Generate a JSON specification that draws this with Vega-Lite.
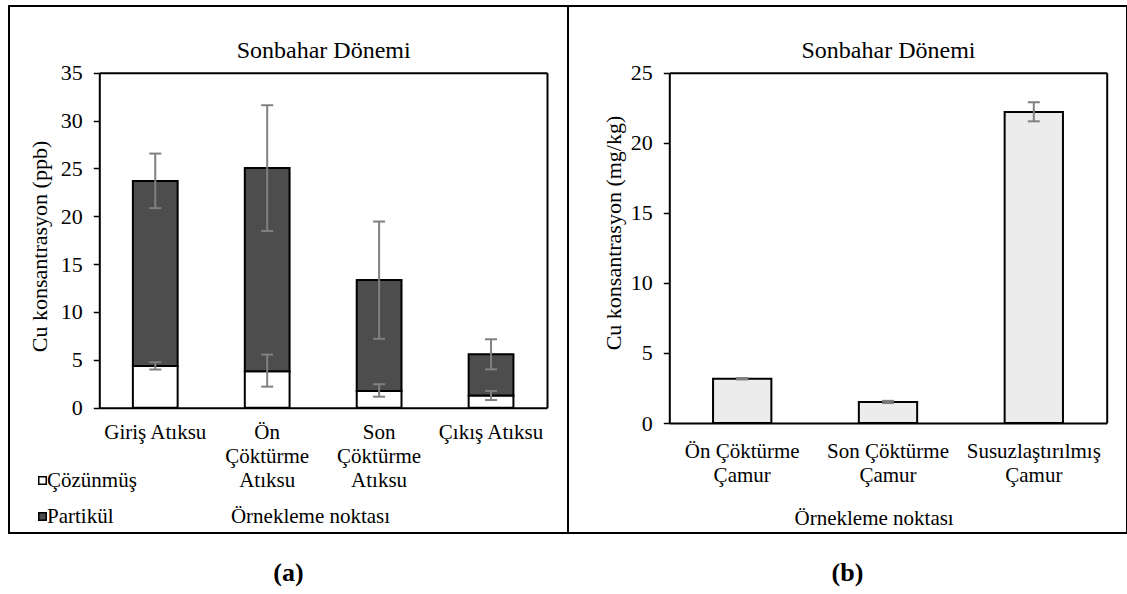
{
  "$schema": "https://vega.github.io/schema/vega-lite/v6.json",
  "background": "white",
  "padding": {"left": 8, "top": 5, "right": 0, "bottom": 0},
  "datasets": {
    "sol": [
      {"nokta": "Giriş Atıksu", "tur": "Çözünmüş", "katman": 1, "deger": 4.36, "alt": 3.99, "ust": 4.75},
      {"nokta": "Giriş Atıksu", "tur": "Partikül", "katman": 2, "deger": 19.33, "alt": 20.85, "ust": 26.55},
      {"nokta": "Ön Çöktürme Atıksu", "tur": "Çözünmüş", "katman": 1, "deger": 3.8, "alt": 2.2, "ust": 5.55},
      {"nokta": "Ön Çöktürme Atıksu", "tur": "Partikül", "katman": 2, "deger": 21.24, "alt": 18.46, "ust": 31.6},
      {"nokta": "Son Çöktürme Atıksu", "tur": "Çözünmüş", "katman": 1, "deger": 1.74, "alt": 1.15, "ust": 2.45},
      {"nokta": "Son Çöktürme Atıksu", "tur": "Partikül", "katman": 2, "deger": 11.6, "alt": 7.2, "ust": 19.45},
      {"nokta": "Çıkış Atıksu", "tur": "Çözünmüş", "katman": 1, "deger": 1.28, "alt": 0.8, "ust": 1.75},
      {"nokta": "Çıkış Atıksu", "tur": "Partikül", "katman": 2, "deger": 4.3, "alt": 4.0, "ust": 7.15}
    ],
    "sag": [
      {"nokta": "Ön Çöktürme Çamur", "deger": 3.16, "alt": 3.11, "ust": 3.21},
      {"nokta": "Son Çöktürme Çamur", "deger": 1.5, "alt": 1.42, "ust": 1.58},
      {"nokta": "Susuzlaştırılmış Çamur", "deger": 22.2, "alt": 21.53, "ust": 22.89}
    ]
  },
  "spacing": 0,
  "bounds": "flush",
  "hconcat": [
    {
      "width": 559,
      "height": 527,
      "title": {"text": "(a)", "orient": "bottom", "anchor": "middle", "frame": "group", "offset": 48, "baseline": "alphabetic", "font": "Liberation Serif, Times New Roman, serif", "fontSize": 26, "fontWeight": "bold", "color": "black"},
      "data": {"name": "sol"},
      "resolve": {"axis": {"x": "independent", "y": "independent"}},
      "layer": [
        {
          "mark": {"type": "bar", "stroke": "black", "strokeWidth": 2},
          "encoding": {
            "x": {
              "field": "nokta", "type": "nominal",
              "sort": ["Giriş Atıksu", "Ön Çöktürme Atıksu", "Son Çöktürme Atıksu", "Çıkış Atıksu"],
              "scale": {"range": [90.3, 538], "paddingInner": 0.6, "paddingOuter": 0.3},
              "axis": {
                "orient": "bottom", "offset": -125.3,
                "title": "Örnekleme noktası", "titleX": 301, "titleY": 115, "titleBaseline": "alphabetic", "titleFontSize": 21,
                "labelFont": "Liberation Serif, Times New Roman, serif", "titleFont": "Liberation Serif, Times New Roman, serif",
                "labelFontSize": 21, "labelAngle": 0, "ticks": false, "tickSize": 0, "labelPadding": 14, "labelLineHeight": 24,
                "labelBaseline": "top", "labelOverlap": false, "domainWidth": 2,
                "labelExpr": "datum.value == 'Ön Çöktürme Atıksu' ? ['Ön', 'Çöktürme', 'Atıksu'] : datum.value == 'Son Çöktürme Atıksu' ? ['Son', 'Çöktürme', 'Atıksu'] : datum.label"
              }
            },
            "y": {
              "field": "deger", "type": "quantitative", "stack": "zero",
              "scale": {"domain": [0, 35], "range": [401.7, 66.7], "nice": false},
              "axis": {
                "orient": "left", "offset": -90.3, "values": [0, 5, 10, 15, 20, 25, 30, 35],
                "labelFont": "Liberation Serif, Times New Roman, serif", "titleFont": "Liberation Serif, Times New Roman, serif",
                "title": "Cu konsantrasyon (ppb)", "titleFontSize": 22, "titlePadding": 9, "titleY": 240,
                "labelFontSize": 22, "tickSize": 6, "tickWidth": 1.5, "labelPadding": 11, "domainWidth": 2
              }
            },
            "color": {
              "field": "tur", "type": "nominal",
              "scale": {"domain": ["Çözünmüş", "Partikül"], "range": ["white", "#4d4d4d"]},
              "legend": {
                "orient": "none", "legendX": 23, "legendY": 464, "title": null, "direction": "vertical",
                "symbolType": "square", "symbolSize": 56, "symbolStrokeColor": "black", "symbolStrokeWidth": 1.5, "symbolOpacity": 1,
                "labelFont": "Liberation Serif, Times New Roman, serif", "labelFontSize": 21, "labelColor": "black", "rowPadding": 14, "labelOffset": -6, "padding": 0
              }
            },
            "order": {"field": "katman", "type": "quantitative"}
          }
        },
        {
          "mark": {"type": "rule", "color": "#808080", "strokeWidth": 2},
          "encoding": {
            "x": {
              "field": "nokta", "type": "nominal",
              "sort": ["Giriş Atıksu", "Ön Çöktürme Atıksu", "Son Çöktürme Atıksu", "Çıkış Atıksu"],
              "axis": {"orient": "top", "offset": -66.7, "labels": false, "ticks": false, "domain": true, "domainWidth": 2,
                       "titleFont": "Liberation Serif, Times New Roman, serif",
                       "title": "Sonbahar Dönemi", "titleFontSize": 24, "titleY": -15, "titleBaseline": "alphabetic"}
            },
            "y": {
              "field": "alt", "type": "quantitative",
              "scale": {"domain": [0, 35], "nice": false},
              "axis": {"orient": "right", "offset": -21, "labels": false, "ticks": false, "domainWidth": 2, "title": null}
            },
            "y2": {"field": "ust"}
          }
        },
        {
          "mark": {"type": "tick", "color": "#808080", "size": 12, "thickness": 2, "orient": "horizontal", "opacity": 1},
          "encoding": {
            "x": {"field": "nokta", "type": "nominal", "sort": ["Giriş Atıksu", "Ön Çöktürme Atıksu", "Son Çöktürme Atıksu", "Çıkış Atıksu"], "axis": null},
            "y": {"field": "alt", "type": "quantitative", "scale": {"domain": [0, 35], "nice": false}, "axis": null}
          }
        },
        {
          "mark": {"type": "tick", "color": "#808080", "size": 12, "thickness": 2, "orient": "horizontal", "opacity": 1},
          "encoding": {
            "x": {"field": "nokta", "type": "nominal", "sort": ["Giriş Atıksu", "Ön Çöktürme Atıksu", "Son Çöktürme Atıksu", "Çıkış Atıksu"], "axis": null},
            "y": {"field": "ust", "type": "quantitative", "scale": {"domain": [0, 35], "nice": false}, "axis": null}
          }
        }
      ]
    },
    {
      "width": 559,
      "height": 527,
      "title": {"text": "(b)", "orient": "bottom", "anchor": "middle", "frame": "group", "offset": 48, "baseline": "alphabetic", "font": "Liberation Serif, Times New Roman, serif", "fontSize": 26, "fontWeight": "bold", "color": "black"},
      "data": {"name": "sag"},
      "resolve": {"axis": {"x": "independent", "y": "independent"}},
      "layer": [
        {
          "mark": {"type": "bar", "fill": "#ececec", "stroke": "black", "strokeWidth": 2},
          "encoding": {
            "x": {
              "field": "nokta", "type": "nominal",
              "sort": ["Ön Çöktürme Çamur", "Son Çöktürme Çamur", "Susuzlaştırılmış Çamur"],
              "scale": {"range": [101.3, 538.7], "paddingInner": 0.6, "paddingOuter": 0.3},
              "axis": {
                "orient": "bottom", "offset": -110,
                "labelFont": "Liberation Serif, Times New Roman, serif", "titleFont": "Liberation Serif, Times New Roman, serif",
                "title": "Örnekleme noktası", "titleX": 305.6, "titleY": 101.3, "titleBaseline": "alphabetic", "titleFontSize": 21,
                "labelFontSize": 21, "labelAngle": 0, "ticks": false, "tickSize": 0, "labelPadding": 17, "labelLineHeight": 24,
                "labelBaseline": "top", "labelOverlap": false, "domainWidth": 2,
                "labelExpr": "[replace(datum.value, ' Çamur', ''), 'Çamur']"
              }
            },
            "y": {
              "field": "deger", "type": "quantitative",
              "scale": {"domain": [0, 25], "range": [417, 66.7], "nice": false},
              "axis": {
                "orient": "left", "offset": -101.3, "values": [0, 5, 10, 15, 20, 25],
                "labelFont": "Liberation Serif, Times New Roman, serif", "titleFont": "Liberation Serif, Times New Roman, serif",
                "title": "Cu konsantrasyon (mg/kg)", "titleFontSize": 22, "titlePadding": 5, "titleY": 226.5,
                "labelFontSize": 22, "tickSize": 6, "tickWidth": 1.5, "labelPadding": 11, "domainWidth": 2
              }
            }
          }
        },
        {
          "mark": {"type": "rule", "color": "#808080", "strokeWidth": 2},
          "encoding": {
            "x": {
              "field": "nokta", "type": "nominal",
              "sort": ["Ön Çöktürme Çamur", "Son Çöktürme Çamur", "Susuzlaştırılmış Çamur"],
              "axis": {"orient": "top", "offset": -66.7, "labels": false, "ticks": false, "domain": true, "domainWidth": 2,
                       "titleFont": "Liberation Serif, Times New Roman, serif",
                       "title": "Sonbahar Dönemi", "titleFontSize": 24, "titleY": -15, "titleBaseline": "alphabetic"}
            },
            "y": {
              "field": "alt", "type": "quantitative",
              "scale": {"domain": [0, 25], "nice": false},
              "axis": {"orient": "right", "offset": -20.3, "labels": false, "ticks": false, "domainWidth": 2, "title": null}
            },
            "y2": {"field": "ust"}
          }
        },
        {
          "mark": {"type": "tick", "color": "#808080", "size": 12, "thickness": 2, "orient": "horizontal", "opacity": 1},
          "encoding": {
            "x": {"field": "nokta", "type": "nominal", "sort": ["Ön Çöktürme Çamur", "Son Çöktürme Çamur", "Susuzlaştırılmış Çamur"], "axis": null},
            "y": {"field": "alt", "type": "quantitative", "scale": {"domain": [0, 25], "nice": false}, "axis": null}
          }
        },
        {
          "mark": {"type": "tick", "color": "#808080", "size": 12, "thickness": 2, "orient": "horizontal", "opacity": 1},
          "encoding": {
            "x": {"field": "nokta", "type": "nominal", "sort": ["Ön Çöktürme Çamur", "Son Çöktürme Çamur", "Susuzlaştırılmış Çamur"], "axis": null},
            "y": {"field": "ust", "type": "quantitative", "scale": {"domain": [0, 25], "nice": false}, "axis": null}
          }
        }
      ]
    }
  ],
  "config": {
    "font": "Liberation Serif, Times New Roman, serif",
    "view": {"stroke": "black", "strokeWidth": 2},
    "axis": {
      "labelFont": "Liberation Serif, Times New Roman, serif", "titleFont": "Liberation Serif, Times New Roman, serif",
      "labelColor": "black", "titleColor": "black", "domainColor": "black", "tickColor": "black",
      "grid": false, "titleFontWeight": "normal"
    },
    "legend": {"labelFont": "Liberation Serif, Times New Roman, serif"},
    "title": {"font": "Liberation Serif, Times New Roman, serif"}
  }
}
